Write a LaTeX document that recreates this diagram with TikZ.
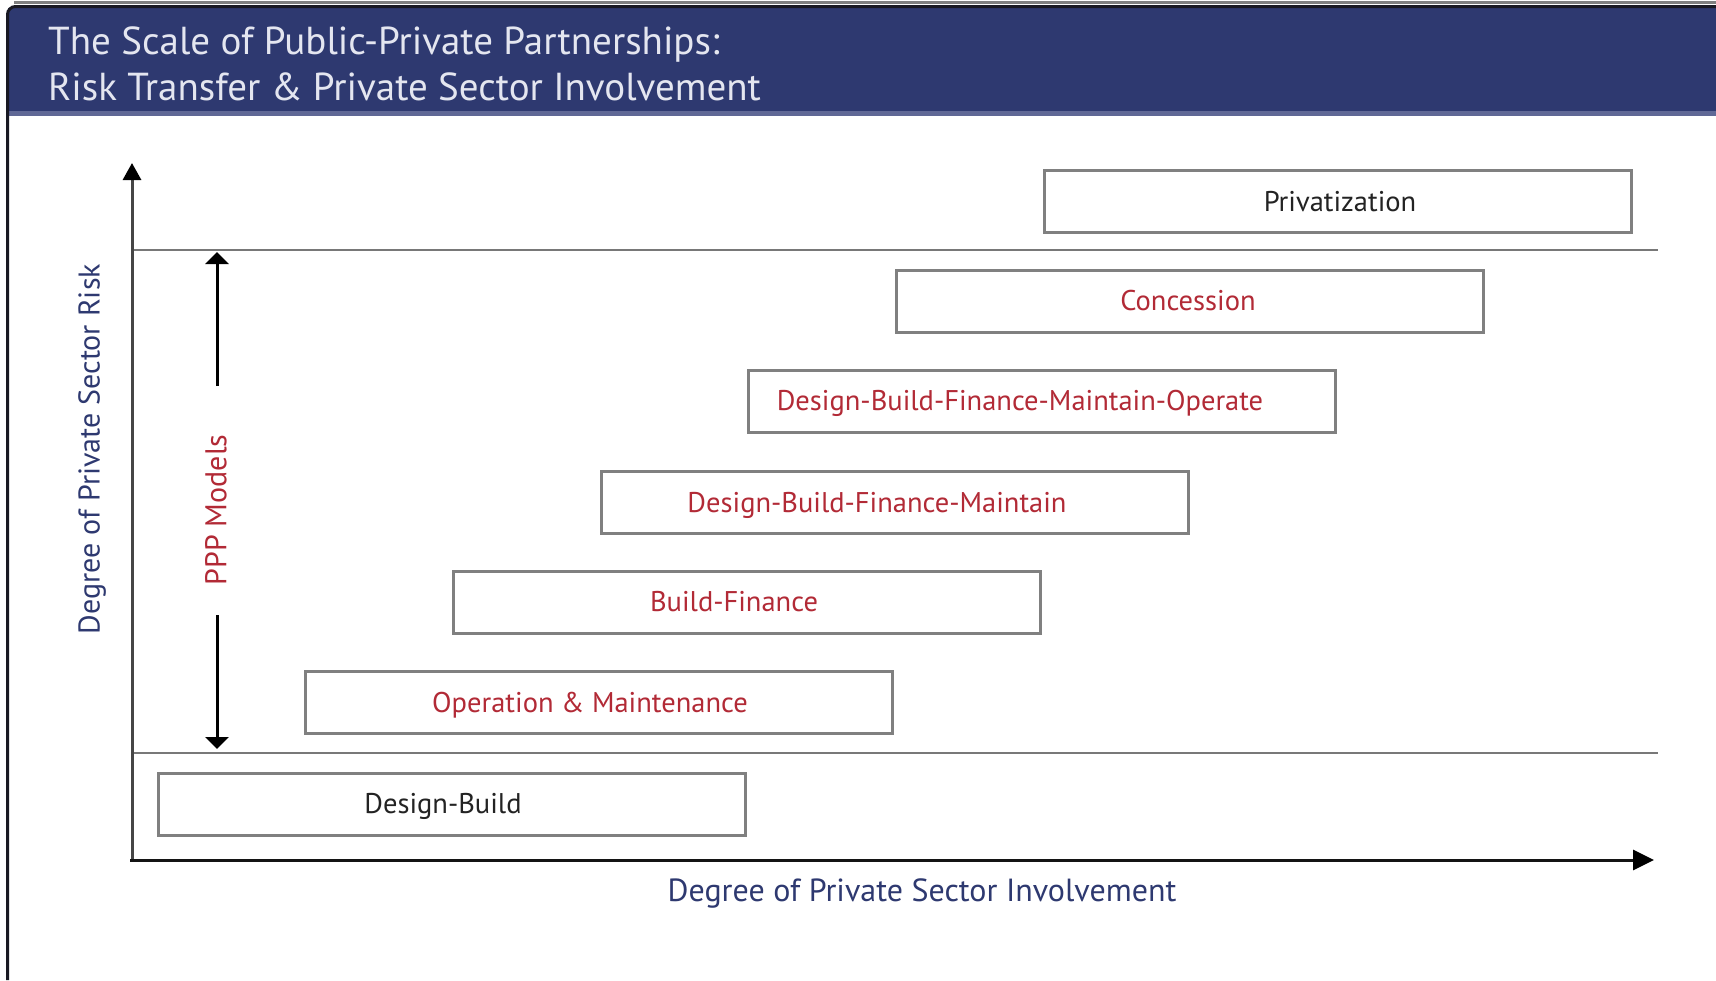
\documentclass[tikz,border=0pt]{standalone}
\usepackage{fontspec}
\setmainfont{PT Sans}
\usetikzlibrary{arrows.meta}
\definecolor{hdrblue}{RGB}{46,57,112}
\definecolor{hdrlight}{RGB}{96,104,150}
\definecolor{pppred}{RGB}{178,42,54}
\definecolor{boxgray}{RGB}{128,128,128}
\definecolor{axisgray}{RGB}{70,70,70}
\definecolor{sepgray}{RGB}{120,120,120}
\definecolor{txtblack}{RGB}{35,35,35}
\definecolor{hdrtxt}{RGB}{228,230,240}
\definecolor{edgedark}{RGB}{25,25,35}
\definecolor{xaxis}{RGB}{20,20,20}
\tikzset{
  pbox/.style={draw=boxgray, line width=3pt, fill=white, minimum width=587pt, minimum height=62pt, inner sep=0pt},
  btext/.style={anchor=base, inner sep=0pt, font=\fontsize{28.5}{32}\selectfont},
  hdrtext/.style={anchor=base west, inner sep=0pt, text=hdrtxt, font=\fontsize{39}{44}\selectfont},
  axlabel/.style={inner sep=0pt, text=hdrblue},
  sepline/.style={draw=sepgray, line width=2.5pt},
  axisline/.style={draw=axisgray, line width=3pt},
  ppparrow/.style={draw=black, line width=3pt, -{Triangle[length=12pt,width=23pt]}}
}
\begin{document}
\begin{tikzpicture}[x=1pt,y=-1pt]
\useasboundingbox (0,0) rectangle (1716,980);
\fill[white] (0,0) rectangle (1716,980);
% header
\fill[hdrblue] (8,8) rectangle (1716,112);
\fill[hdrlight] (8,111) rectangle (1716,116);
\draw[line width=3pt, color=boxgray] (14,2.5) -- (1716,2.5);
\draw[line width=3pt, color=edgedark, rounded corners=8pt] (7.5,980) -- (7.5,6.5) -- (1716,6.5);
\node[hdrtext] (title1) at (48,54) {The Scale of Public-Private Partnerships:};
\node[hdrtext] (title2) at (48,100) {Risk Transfer \& Private Sector Involvement};
% coordinates
\coordinate (yorig) at (132,860);
\coordinate (ytop) at (132,163);
\coordinate (xend) at (1654,860);
\coordinate (xorig) at (130,860);
% separators
\coordinate (s1a) at (132,250);
\coordinate (s1b) at (1658,250);
\coordinate (s2a) at (132,753);
\coordinate (s2b) at (1658,753);
\draw[sepline] (s1a) -- (s1b);
\draw[sepline] (s2a) -- (s2b);
% axes
\draw[axisline, -{Triangle[length=17pt,width=18pt,color=black]}] (yorig) -- (ytop);
\draw[axisline, draw=xaxis, -{Triangle[length=21pt,width=20pt,color=black]}] (xorig) -- (xend);
% boxes
\node[pbox] (priv) at (1337.5,201.5) {};
\node[pbox] (conc) at (1190,301) {};
\node[pbox] (dbfmo) at (1042,401) {};
\node[pbox] (dbfm) at (895,502.5) {};
\node[pbox] (bf) at (747,602) {};
\node[pbox] (om) at (599,702.5) {};
\node[pbox] (db) at (452,804) {};
% box texts
\node[btext, text=txtblack] (privt) at (1340,211) {Privatization};
\node[btext, text=pppred] (conct) at (1188,310.5) {Concession};
\node[btext, text=pppred] (dbfmot) at (1020,410.5) {Design-Build-Finance-Maintain-Operate};
\node[btext, text=pppred] (dbfmt) at (877,512) {Design-Build-Finance-Maintain};
\node[btext, text=pppred] (bft) at (734,611.5) {Build-Finance};
\node[btext, text=pppred] (omt) at (590,712) {Operation \& Maintenance};
\node[btext, text=txtblack] (dbt) at (443,813.5) {Design-Build};
% PPP arrows
\node[inner sep=0pt, rotate=90, text=pppred, font=\fontsize{30}{34}\selectfont] (ppp) at (216,510) {PPP Models};
\coordinate (pupt) at (217,252);
\coordinate (pupb) at (217,386);
\coordinate (pdnt) at (217,615);
\coordinate (pdnb) at (217,749);
\draw[ppparrow] (pupb) -- (pupt);
\draw[ppparrow] (pdnt) -- (pdnb);
% axis labels
\node[axlabel, rotate=90, font=\fontsize{30}{34}\selectfont] (ylab) at (92,449) {Degree of Private Sector Risk};
\node[axlabel, font=\fontsize{32}{36}\selectfont] (xlab) at (922,893) {Degree of Private Sector Involvement};
\end{tikzpicture}
\end{document}
